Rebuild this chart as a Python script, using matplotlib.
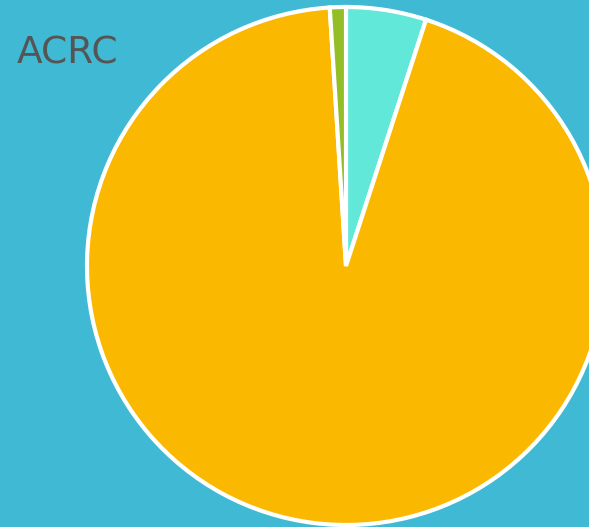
import matplotlib.pyplot as plt

labels = ["Teal", "Orange", "Green"]
values = [5, 94, 1]
colors = ["#62E8D8", "#FBB800", "#93BE26"]

fig = plt.figure(figsize=(5.89, 5.27), dpi=100)
fig.patch.set_facecolor("#40BAD4")
ax = fig.add_axes([0, 0, 1, 1])
ax.set_facecolor("#40BAD4")

ax.pie(values, colors=colors, startangle=90, counterclock=False,
       center=(346, 261), radius=259,
       wedgeprops={"edgecolor": "white", "linewidth": 3})
ax.set_xlim(0, 589)
ax.set_ylim(0, 527)
ax.set_aspect("equal")
ax.axis("off")

fig.text(17 / 589, 1 - 64 / 527, "ACRC", fontsize=27, color="#555555",
         ha="left", va="baseline")

fig.savefig("out.png", dpi=100, facecolor=fig.get_facecolor())
